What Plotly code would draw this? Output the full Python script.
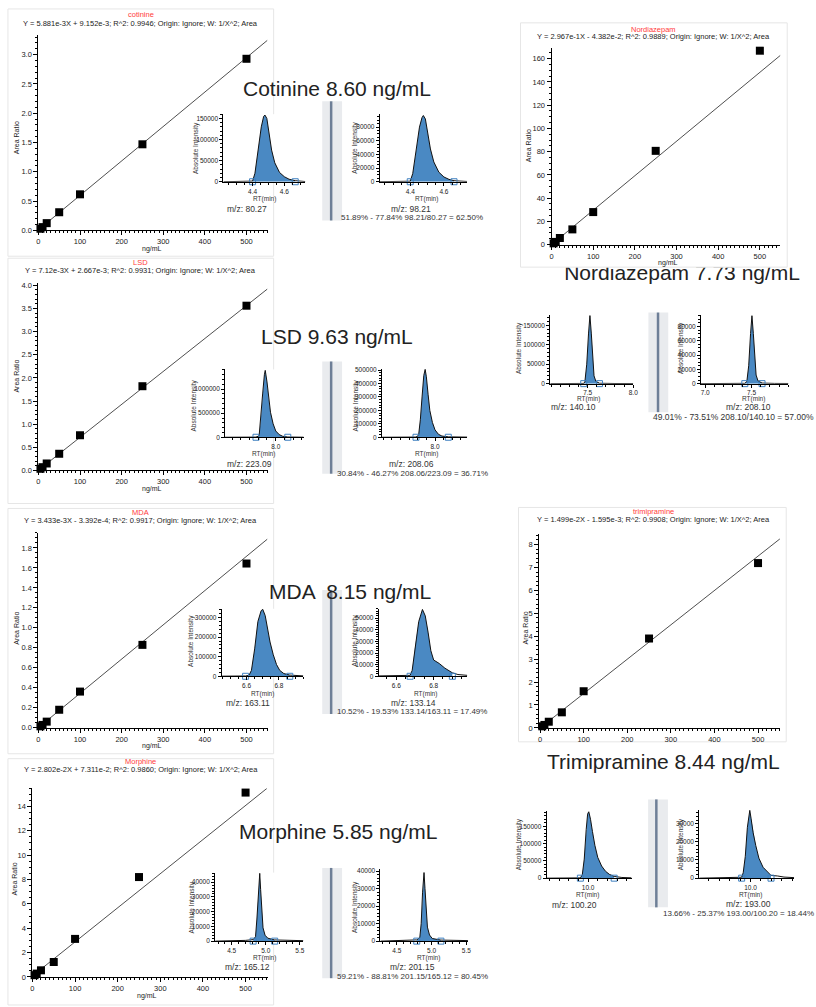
import plotly.graph_objects as go

W, H = 816, 1007
FONT = "Liberation Sans, Arial, sans-serif"

# ---------------- calibration data ----------------
conc = [5, 10, 20, 50, 100, 250, 500]
fit_x = [0, 550]

cot_ratio = [0.028, 0.056, 0.124, 0.31, 0.616, 1.47, 2.93]
cot_fit = [0.0092, 3.244]
lsd_ratio = [0.035, 0.07, 0.15, 0.36, 0.76, 1.82, 3.56]
lsd_fit = [0.0027, 3.919]
mda_ratio = [0.013, 0.027, 0.06, 0.179, 0.361, 0.829, 1.644]
mda_fit = [-0.0003, 1.888]
mor_ratio = [0.14, 0.27, 0.54, 1.22, 3.12, 8.2, 15.14]
mor_fit = [0.073, 15.48]
nor_ratio = [1.1, 2.3, 5.7, 13.1, 28.0, 80.7, 166.9]
nor_fit = [-0.044, 163.1]
tri_ratio = [0.07, 0.13, 0.27, 0.68, 1.6, 3.9, 7.19]
tri_fit = [-0.0016, 8.243]

# ---------------- chromatogram data ----------------
cot_q_rt = [4.216, 4.30, 4.38, 4.40, 4.415, 4.435, 4.455, 4.470, 4.478, 4.49, 4.505, 4.52, 4.54, 4.57, 4.60, 4.63, 4.669, 4.70, 4.733]
cot_q_int = [0, 200, 300, 1500, 20000, 75000, 130000, 155000, 158000, 150000, 115000, 75000, 45000, 22000, 12000, 6000, 2500, 800, 500]
cot_q_marks = [4.40, 4.669]
cot_c_rt = [4.219, 4.30, 4.38, 4.40, 4.415, 4.435, 4.455, 4.47, 4.478, 4.49, 4.505, 4.52, 4.54, 4.57, 4.60, 4.63, 4.66, 4.70, 4.737]
cot_c_int = [0, 200, 300, 800, 12000, 45000, 80000, 94000, 97000, 92000, 72000, 48000, 29000, 14000, 7000, 3500, 1500, 600, 400]
cot_c_marks = [4.40, 4.66]

lsd_q_rt = [7.71, 7.80, 7.887, 7.905, 7.915, 7.925, 7.935, 7.94, 7.95, 7.96, 7.97, 7.985, 8.0, 8.02, 8.04, 8.069, 8.10, 8.16]
lsd_q_int = [0, 2000, 3000, 30000, 400000, 900000, 1300000, 1390000, 1150000, 800000, 520000, 280000, 130000, 55000, 20000, 5000, 2000, 1000]
lsd_q_marks = [7.887, 8.069]
lsd_c_rt = [7.693, 7.80, 7.89, 7.905, 7.915, 7.925, 7.935, 7.943, 7.95, 7.96, 7.97, 7.985, 8.0, 8.02, 8.04, 8.077, 8.12, 8.187]
lsd_c_int = [0, 1000, 1500, 15000, 130000, 300000, 460000, 505000, 450000, 320000, 200000, 110000, 55000, 22000, 9000, 3000, 1500, 1000]
lsd_c_marks = [7.89, 8.077]

mda_q_rt = [6.447, 6.55, 6.594, 6.615, 6.63, 6.65, 6.67, 6.69, 6.70, 6.715, 6.73, 6.745, 6.765, 6.785, 6.805, 6.83, 6.867, 6.90, 6.951]
mda_q_int = [500, 800, 1500, 5000, 30000, 140000, 280000, 335000, 342000, 310000, 240000, 175000, 110000, 60000, 30000, 14000, 6000, 3000, 2000]
mda_q_marks = [6.594, 6.867]
mda_c_rt = [6.506, 6.60, 6.674, 6.685, 6.70, 6.72, 6.74, 6.755, 6.77, 6.785, 6.80, 6.83, 6.86, 6.90, 6.93, 6.98]
mda_c_int = [300, 400, 800, 5000, 25000, 47000, 57500, 52000, 38000, 22000, 14000, 11000, 7000, 3000, 1500, 800]
mda_c_marks = [6.674, 6.90]

mor_q_rt = [4.257, 4.60, 4.70, 4.815, 4.85, 4.87, 4.89, 4.905, 4.912, 4.925, 4.94, 4.96, 4.99, 5.03, 5.131, 5.30, 5.553]
mor_q_int = [0, 300, 500, 1000, 3000, 15000, 35000, 45000, 46000, 35000, 20000, 9000, 4000, 2000, 800, 500, 300]
mor_q_marks = [4.815, 5.131]
mor_c_rt = [4.263, 4.60, 4.70, 4.786, 4.83, 4.85, 4.87, 4.885, 4.891, 4.905, 4.92, 4.94, 4.97, 5.01, 5.134, 5.30, 5.524]
mor_c_int = [0, 200, 400, 700, 2000, 10000, 28000, 37000, 39200, 30000, 17000, 8000, 3500, 1500, 600, 400, 300]
mor_c_marks = [4.786, 5.134]

nor_q_rt = [7.09, 7.30, 7.457, 7.47, 7.49, 7.51, 7.525, 7.54, 7.555, 7.57, 7.59, 7.63, 7.80, 8.0]
nor_q_int = [0, 200, 500, 5000, 50000, 130000, 175000, 130000, 60000, 20000, 6000, 1000, 300, 200]
nor_q_marks = [7.457, 7.63]
nor_c_rt = [6.954, 7.20, 7.428, 7.45, 7.47, 7.49, 7.505, 7.52, 7.535, 7.55, 7.57, 7.614, 7.75, 7.9]
nor_c_int = [0, 200, 400, 3000, 25000, 70000, 95000, 70000, 35000, 12000, 4000, 800, 300, 200]
nor_c_marks = [7.428, 7.614]

tri_q_rt = [9.57, 9.80, 9.92, 9.94, 9.96, 9.98, 9.995, 10.007, 10.025, 10.045, 10.07, 10.10, 10.14, 10.18, 10.22, 10.27, 10.35, 10.45]
tri_q_int = [0, 300, 800, 10000, 55000, 140000, 185000, 192000, 170000, 135000, 95000, 60000, 35000, 20000, 11000, 5000, 2000, 1000]
tri_q_marks = [9.92, 10.27]
tri_c_rt = [9.51, 9.70, 9.80, 9.915, 9.93, 9.95, 9.97, 9.993, 10.005, 10.025, 10.05, 10.08, 10.12, 10.16, 10.196, 10.26, 10.32, 10.417]
tri_c_int = [0, 300, 500, 500, 3000, 12000, 28000, 37300, 33000, 25000, 18000, 11000, 6000, 3500, 1500, 1200, 600, 300]
tri_c_marks = [9.915, 10.196]

fig = go.Figure()
axis_n = [0]


def axis_base(fs):
    return dict(showline=True, linecolor="#000", linewidth=1, ticks="outside", ticklen=4,
                tickwidth=1, tickcolor="#000", showgrid=False, zeroline=False,
                tickfont=dict(family=FONT, size=fs, color="#222"), fixedrange=True)


def new_axes(xpx, ypx, xr, yr, xext, yext, fs):
    axis_n[0] += 1
    n = axis_n[0]
    sx = "" if n == 1 else str(n)
    xa = axis_base(fs)
    xa.update(domain=[xpx[0] / W, xpx[1] / W], range=xr, anchor="y" + sx)
    xa.update(xext)
    ya = axis_base(fs)
    ya.update(domain=[1 - ypx[1] / H, 1 - ypx[0] / H], range=yr, anchor="x" + sx)
    ya.update(yext)
    fig.update_layout(**{"xaxis" + sx: xa, "yaxis" + sx: ya})
    return "x" + sx, "y" + sx


def ann(x, y, text, size, color="#222", angle=0, xanchor="center"):
    fig.add_annotation(x=x / W, y=1 - y / H, xref="paper", yref="paper", text=text,
                       showarrow=False, textangle=angle, xanchor=xanchor, yanchor="middle",
                       font=dict(family=FONT, size=size, color=color))


def minor(d):
    return dict(dtick=d, ticklen=2, tickcolor="#000", ticks="outside", showgrid=False)


def calib(title, eq, ratios, fit, xpx, ypx, xr, yr, ydt, ymn, yfmt, cx, ty, ey, ylab, xlab):
    xa, ya = new_axes(xpx, ypx, xr, yr,
                      dict(dtick=100, tick0=0, minor=minor(10)),
                      dict(dtick=ydt, tick0=0, tickformat=yfmt, minor=minor(ymn)), 7.5)
    fig.add_trace(go.Scatter(x=fit_x, y=fit, mode="lines", line=dict(color="#222", width=0.8),
                             xaxis=xa, yaxis=ya, hoverinfo="skip"))
    fig.add_trace(go.Scatter(x=conc, y=ratios, mode="markers", cliponaxis=False,
                             marker=dict(symbol="square", size=8, color="#000"),
                             xaxis=xa, yaxis=ya))
    ann(cx, ty, title, 7.5, "#ff3b3b")
    ann(cx, ey, eq, 7.5, "#222")
    ann(ylab[0], ylab[1], "Area Ratio", 7, "#222", angle=-90)
    if xlab is not None:
        ann(xlab[0], xlab[1], "ng/mL", 7, "#222")


def chrom(rt, inten, marks, xpx, ypx, xr, yr, xdt, xmn, ydt, ymn, ytl, rtl):
    xa, ya = new_axes(xpx, ypx, xr, yr,
                      dict(dtick=xdt, tick0=0, tickformat=".1f", minor=minor(xmn), ticklen=3),
                      dict(dtick=ydt, tick0=0, tickformat="d", minor=minor(ymn), ticklen=3), 6.5)
    fx = [r for r in rt if marks[0] <= r <= marks[1]]
    fy = [i for r, i in zip(rt, inten) if marks[0] <= r <= marks[1]]
    fig.add_trace(go.Scatter(x=fx, y=fy, mode="lines", fill="tozeroy", fillcolor="#4a89c3",
                             line=dict(width=0, color="#4a89c3"), xaxis=xa, yaxis=ya))
    fig.add_trace(go.Scatter(x=rt, y=inten, mode="lines", line=dict(color="#111", width=1),
                             xaxis=xa, yaxis=ya))
    fig.add_trace(go.Scatter(x=marks, y=[0, 0], mode="markers", cliponaxis=False,
                             marker=dict(symbol="square-open", size=6, color="#3f80c0",
                                         line=dict(width=1)), xaxis=xa, yaxis=ya))
    ann(ytl[0], ytl[1], "Absolute Intensity", 6.5, "#333", angle=-90)
    ann(rtl[0], rtl[1], "RT(min)", 6.5, "#333")


def separator(x0, x1, xl, y0, y1):
    fig.add_shape(type="rect", xref="paper", yref="paper", x0=x0 / W, x1=x1 / W,
                  y0=1 - y1 / H, y1=1 - y0 / H, fillcolor="#e9ebee", line=dict(width=0), layer="below")
    fig.add_shape(type="line", xref="paper", yref="paper", x0=xl / W, x1=xl / W,
                  y0=1 - y1 / H, y1=1 - y0 / H, line=dict(color="#6e7f97", width=2.5))


def box(x0, y0, x1, y1):
    fig.add_shape(type="rect", xref="paper", yref="paper", x0=x0 / W, x1=x1 / W,
                  y0=1 - y1 / H, y1=1 - y0 / H, line=dict(color="#e6e6e6", width=1), layer="below")


# panel boxes
box(6, 7, 274, 256)
box(6, 258, 274, 505)
box(6, 510, 274, 757)
box(6, 762, 274, 1010)
box(523, 21, 792, 267)
box(521, 509, 791, 745)

# ---------------- calibrations ----------------
calib("cotinine", "Y = 5.881e-3X + 9.152e-3; R^2: 0.9946; Origin: Ignore; W: 1/X^2; Area",
      cot_ratio, cot_fit, (36.7, 268), (33, 230), [0, 551], [0, 3.34], 0.5, 0.1, ".1f",
      140, 13, 21.5, (14.3, 137), (151, 249))
calib("LSD", "Y = 7.12e-3X + 2.667e-3; R^2: 0.9931; Origin: Ignore; W: 1/X^2; Area",
      lsd_ratio, lsd_fit, (36.7, 268), (283, 471.7), [0, 551], [0, 4.05], 0.5, 0.1, ".1f",
      140, 262, 270, (14.3, 377), (151, 490))
calib("MDA", "Y = 3.433e-3X - 3.392e-4; R^2: 0.9917; Origin: Ignore; W: 1/X^2; Area",
      mda_ratio, mda_fit, (36.7, 268), (534.7, 730.7), [0, 551], [0, 1.95], 0.2, 0.05, ".1f",
      140, 514, 522, (14.3, 631), (151, 749.7))
calib("Morphine", "Y = 2.802e-2X + 7.311e-2; R^2: 0.9860; Origin: Ignore; W: 1/X^2; Area",
      mor_ratio, mor_fit, (30.7, 268.3), (791.7, 981.7), [0, 552.6], [0, 15.5], 2, 0.5, "d",
      140, 765, 773.3, (12.7, 883), (146.7, 1000.7))
calib("Nordiazepam", "Y = 2.967e-1X - 4.382e-2; R^2: 0.9889; Origin: Ignore; W: 1/X^2; Area",
      nor_ratio, nor_fit, (554.3, 785), (46.7, 244.3), [0, 549], [0, 168.9], 20, 5, "d",
      657, 27.3, 35, (531.7, 145), (671.7, 263))
calib("trimipramine", "Y = 1.499e-2X - 1.595e-3; R^2: 0.9908; Origin: Ignore; W: 1/X^2; Area",
      tri_ratio, tri_fit, (541.7, 785), (535.7, 731), [-2.3, 551], [0, 8.46], 1, 0.2, "d",
      656.7, 513.3, 521, (528.3, 630), None)

# ---------------- chromatograms ----------------
chrom(cot_q_rt, cot_q_int, cot_q_marks, (223.3, 306), (113, 181), [4.216, 4.733], [0, 160000],
      0.2, 0.05, 50000, 10000, (195, 146.7), (265, 198.5))
chrom(cot_c_rt, cot_c_int, cot_c_marks, (381, 469), (113, 181), [4.219, 4.737], [0, 98900],
      0.2, 0.05, 20000, 5000, (356, 146.7), (428.3, 198.5))
chrom(lsd_q_rt, lsd_q_int, lsd_q_marks, (225, 304.3), (370, 438.3), [7.71, 8.16], [0, 1410000],
      0.5, 0.05, 500000, 100000, (193.3, 406.7), (264, 455.5))
chrom(lsd_c_rt, lsd_c_int, lsd_c_marks, (383.3, 469.3), (369.3, 438.3), [7.693, 8.187], [0, 510000],
      0.5, 0.05, 100000, 20000, (356.7, 406.7), (428, 455.5))
chrom(mda_q_rt, mda_q_int, mda_q_marks, (221.7, 304), (611, 679), [6.447, 6.951], [0, 345000],
      0.2, 0.05, 100000, 20000, (190, 643), (262.7, 696.5))
chrom(mda_c_rt, mda_c_int, mda_c_marks, (380, 469.3), (611, 679), [6.506, 6.98], [0, 58100],
      0.2, 0.05, 10000, 2000, (356, 643), (427.3, 696.5))
chrom(mor_q_rt, mor_q_int, mor_q_marks, (215, 304), (876.7, 945.7), [4.257, 5.553], [0, 46500],
      0.5, 0.1, 10000, 2000, (191.7, 911.7), (265, 963))
chrom(mor_c_rt, mor_c_int, mor_c_marks, (381.7, 470), (873.3, 945.7), [4.263, 5.524], [0, 41100],
      0.5, 0.1, 10000, 2000, (356.7, 911.7), (430, 963))
chrom(nor_q_rt, nor_q_int, nor_q_marks, (553, 636.7), (315, 384.3), [7.09, 8.0], [0, 177000],
      0.5, 0.1, 50000, 10000, (521.7, 348.3), (591.7, 399.3))
chrom(nor_c_rt, nor_c_int, nor_c_marks, (705, 793.3), (315, 384.3), [6.954, 7.9], [0, 96250],
      0.5, 0.1, 20000, 5000, (685, 348.3), (757.7, 399.3))
chrom(tri_q_rt, tri_q_int, tri_q_marks, (549.3, 635), (815, 882.3), [9.57, 10.45], [0, 193000],
      0.5, 0.1, 50000, 10000, (521.7, 848), (590.7, 899))
chrom(tri_c_rt, tri_c_int, tri_c_marks, (703.3, 799), (813.3, 882.3), [9.51, 10.417], [0, 37700],
      0.5, 0.1, 10000, 2000, (685, 848), (755, 899))

# separators
separator(323, 343, 332, 100, 220)
separator(323, 343, 332, 362, 475)
separator(323, 343, 332, 592, 717)
separator(323, 343, 332, 872, 983)
separator(652, 672, 661.7, 312.7, 413)
separator(651.7, 671.7, 660, 803, 911.7)

# m/z and ratio texts
ann(247.5, 208.5, "m/z: 80.27", 8.5, "#333")
ann(413, 208.5, "m/z: 98.21", 8.5, "#333")
ann(414, 217.5, "51.89% - 77.84% 98.21/80.27 = 62.50%", 8, "#333")
ann(250, 465.5, "m/z: 223.09", 8.5, "#333")
ann(413, 465.5, "m/z: 208.06", 8.5, "#333")
ann(414, 474.3, "30.84% - 46.27% 208.06/223.09 = 36.71%", 8, "#333")
ann(248, 706, "m/z: 163.11", 8.5, "#333")
ann(415, 706, "m/z: 133.14", 8.5, "#333")
ann(414, 714.7, "10.52% - 19.53% 133.14/163.11 = 17.49%", 8, "#333")
ann(248, 972, "m/z: 165.12", 8.5, "#333")
ann(414, 972, "m/z: 201.15", 8.5, "#333")
ann(414, 981, "59.21% - 88.81% 201.15/165.12 = 80.45%", 8, "#333")
ann(576, 408.3, "m/z: 140.10", 8.5, "#333")
ann(752.5, 408.3, "m/z: 208.10", 8.5, "#333")
ann(738, 418.3, "49.01% - 73.51% 208.10/140.10 = 57.00%", 8.5, "#333")
ann(577.5, 909, "m/z: 100.20", 8.5, "#333")
ann(752.5, 908, "m/z: 193.00", 8.5, "#333")
ann(743, 917.7, "13.66% - 25.37% 193.00/100.20 = 18.44%", 8, "#333")

# big concentration labels
ann(337.5, 87.3, "Cotinine 8.60 ng/mL", 21, "#222")
ann(338, 336.7, "LSD 9.63 ng/mL", 21, "#222")
ann(351.5, 594, "MDA  8.15 ng/mL", 21, "#222")
ann(339, 835, "Morphine 5.85 ng/mL", 21, "#222")
ann(667, 765, "Trimipramine 8.44 ng/mL", 21, "#222")

# Nordiazepam label partly hidden under its calibration panel (clipped text)
n = axis_n[0] + 1
fig.update_layout(**{
    "xaxis%d" % n: dict(domain=[500 / W, 1], range=[500, 816], visible=False, fixedrange=True, anchor="y%d" % n),
    "yaxis%d" % n: dict(domain=[1 - 300 / H, 1 - 267.5 / H], range=[300, 267.5], visible=False, fixedrange=True, anchor="x%d" % n),
})
fig.add_trace(go.Scatter(x=[686], y=[275], mode="text", text=["Nordiazepam 7.73 ng/mL"],
                         textposition="middle center", cliponaxis=True,
                         textfont=dict(family=FONT, size=21, color="#222"),
                         xaxis="x%d" % n, yaxis="y%d" % n))

fig.update_layout(width=W, height=H, margin=dict(l=0, r=0, t=0, b=0), showlegend=False,
                  plot_bgcolor="white", paper_bgcolor="white", hovermode=False)
fig.write_html("out.html", config={"displayModeBar": False},
               post_script="document.body.style.margin='0';")
